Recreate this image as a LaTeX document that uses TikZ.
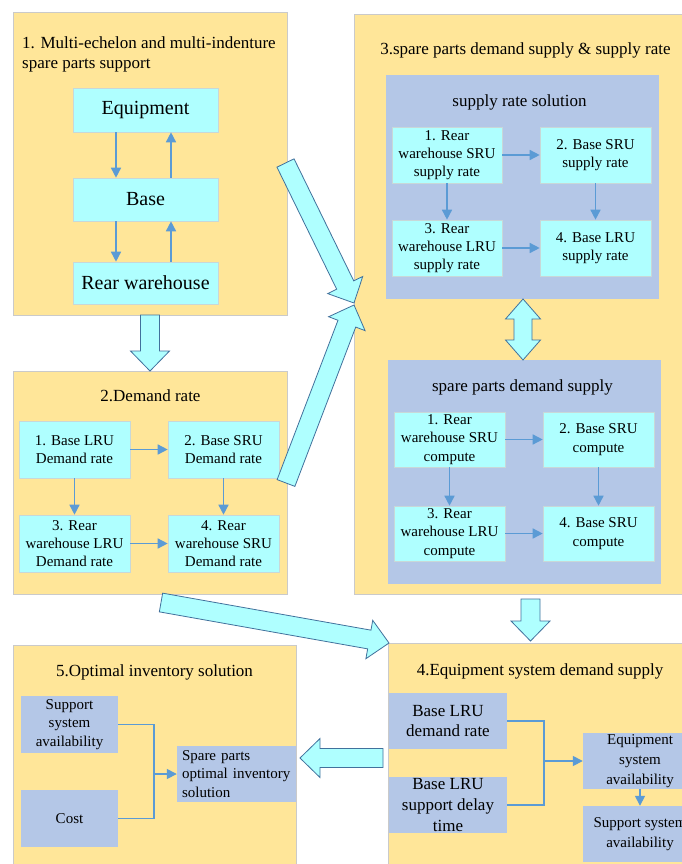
\documentclass[tikz,border=0pt]{standalone}
\usepackage{fontspec}
\setmainfont{Liberation Serif}
\usetikzlibrary{arrows.meta,calc,positioning}
\definecolor{panelfill}{HTML}{FFE699}
\definecolor{panelline}{HTML}{CACACA}
\definecolor{cellfill}{HTML}{AFFFFF}
\definecolor{cellline}{HTML}{C8D8D8}
\definecolor{softfill}{HTML}{B4C7E7}
\definecolor{flowblue}{HTML}{5B9BD5}
\definecolor{bigline}{HTML}{41719C}
\tikzset{panel/.style={fill=panelfill, draw=panelline, line width=.8pt}, subpanel/.style={fill=softfill}, cell/.style={draw=cellline, fill=cellfill, line width=.6pt, inner sep=0pt, align=center, font=\fontsize{15}{18.3}\selectfont, minimum width=111pt, minimum height=56pt}, bigcell/.style={cell, font=\fontsize{20}{24}\selectfont, minimum width=145pt}, soft/.style={fill=softfill, inner sep=0pt, align=center, font=\fontsize{15}{18.7}\selectfont}, softbig/.style={soft, font=\fontsize{17}{20.7}\selectfont, minimum width=118pt, minimum height=56pt}, flow/.style={-{Triangle[length=10pt,width=10pt]}, line width=1.5pt, draw=flowblue}, link/.style={line width=1.5pt, draw=flowblue}, ttl/.style={font=\fontsize{17}{20}\selectfont, inner sep=0pt, anchor=base}, blockarrow/.style={fill=cellfill, draw=bigline, line width=.8pt, line join=miter}}
% block arrow from tail #1 to tip #2
\newcommand{\bigarrow}[2]{%
  \path (#1) coordinate (ba) (#2) coordinate (bb);
  \path ($(bb)!20pt!(ba)$) coordinate (bn);
  \draw[blockarrow] ($(ba)!9.5pt!90:(bb)$) -- ($(bn)!9.5pt!90:(bb)$) -- ($(bn)!19.5pt!90:(bb)$) -- (bb)
    -- ($(bn)!19.5pt!-90:(bb)$) -- ($(bn)!9.5pt!-90:(bb)$) -- ($(ba)!9.5pt!-90:(bb)$) -- cycle;}
\begin{document}
\begin{tikzpicture}[x=1pt,y=-1pt]
\useasboundingbox (0,0) rectangle (681,864);
\fill[white] (0,0) rectangle (681,864);
% panels
\draw[panel] (13,12) rectangle (287,315);
\draw[panel] (13,371) rectangle (287,594);
\draw[panel] (354,14) rectangle (692,594);
\draw[panel] (388,643) rectangle (692,872);
\draw[panel] (13,645) rectangle (296,872);
\fill[subpanel] (386,75) rectangle (659,299);
\fill[subpanel] (388,360) rectangle (661,584);
% titles
\node[ttl, anchor=north west, align=left] (t1) at (22,36.5) {1. Multi-echelon and multi-indenture\\spare parts support};
\node[ttl] (t2) at (150.5,401.5) {2.Demand rate};
\node[ttl] (t3) at (525.5,55) {3.spare parts demand supply \& supply rate};
\node[ttl] (t3a) at (519.5,106.5) {supply rate solution};
\node[ttl] (t3b) at (522.5,391.5) {spare parts demand supply};
\node[ttl] (t4) at (540,675) {4.Equipment system demand supply};
\node[ttl] (t5) at (154.5,676.5) {5.Optimal inventory solution};
% 1
\node[bigcell, minimum height=44pt] (equip) at (145.5,110) {Equipment};
\node[bigcell, minimum height=43pt] (base) at (145.5,199.5) {Base};
\node[bigcell, minimum height=42pt] (rear) at (145.5,283) {Rear warehouse};
\draw[flow] ([xshift=-29.5pt]equip.south) -- ([xshift=-29.5pt]base.north);
\draw[flow] ([xshift=25.5pt]base.north) -- ([xshift=25.5pt]equip.south);
\draw[flow] ([xshift=-29.5pt]base.south) -- ([xshift=-29.5pt]rear.north);
\draw[flow] ([xshift=25.5pt]rear.north) -- ([xshift=25.5pt]base.south);
% 2
\node[cell, minimum height=57pt] (d1) at (74.5,449.5) {1. Base LRU\\Demand rate};
\node[cell, minimum height=57pt] (d2) at (223.5,449.5) {2. Base SRU\\Demand rate};
\node[cell, minimum height=57pt] (d3) at (74.5,543.5) {3. Rear\\warehouse LRU\\Demand rate};
\node[cell, minimum height=57pt] (d4) at (223.5,543.5) {4. Rear\\warehouse SRU\\Demand rate};
\draw[flow] (d1) -- (d2); \draw[flow] (d3) -- (d4);
\draw[flow] (d1) -- (d3); \draw[flow] (d2) -- (d4);
% 3
\node[cell, minimum width=110pt] (s1) at (447,155) {1. Rear\\warehouse SRU\\supply rate};
\node[cell] (s2) at (595.5,155) {2. Base SRU\\supply rate};
\node[cell, minimum width=110pt] (s3) at (447,248) {3. Rear\\warehouse LRU\\supply rate};
\node[cell] (s4) at (595.5,248) {4. Base LRU\\supply rate};
\draw[flow] (s1) -- (s2); \draw[flow] (s3) -- (s4);
\draw[flow] (s1) -- (s3); \draw[flow] (s2) -- (s4);
\node[cell, minimum height=55pt] (c1) at (449.5,439.5) {1. Rear\\warehouse SRU\\compute};
\node[cell, minimum height=55pt] (c2) at (598.5,439.5) {2. Base SRU\\compute};
\node[cell, minimum height=55pt] (c3) at (449.5,533.5) {3. Rear\\warehouse LRU\\compute};
\node[cell, minimum height=55pt] (c4) at (598.5,533.5) {4. Base SRU\\compute};
\draw[flow] (c1) -- (c2); \draw[flow] (c3) -- (c4);
\draw[flow] (c1) -- (c3); \draw[flow] (c2) -- (c4);
% 4
\node[softbig] (p4a) at (448,721) {Base LRU\\demand rate};
\node[softbig] (p4b) at (448,805) {Base LRU\\support delay\\time};
\node[soft, font=\fontsize{15}{20}\selectfont, minimum width=114pt, minimum height=56pt] (p4c) at (640,761) {Equipment\\system\\availability};
\node[soft, font=\fontsize{15}{20}\selectfont, minimum width=114pt, minimum height=56pt] (p4d) at (640,834) {Support system\\availability};
\coordinate (j4) at (544,761);
\draw[link] (p4a.east) -| (j4) |- (p4b.east);
\draw[flow] (j4) -- (p4c.west);
\draw[flow] (p4c.south) -- (p4d.north);
% 5
\node[soft, minimum width=97pt, minimum height=57pt] (q1) at (69.5,724.5) {Support\\system\\availability};
\node[soft, minimum width=97pt, minimum height=57pt] (q2) at (69.5,818.5) {Cost};
\node[soft, align=left, text width=109pt, inner xsep=5pt, minimum height=56pt, font=\fontsize{15}{18.3}\selectfont] (q3) at (236.5,774) {Spare parts\\optimal inventory\\solution};
\coordinate (j5) at (154,774);
\draw[link] (q1.east) -| (j5) |- (q2.east);
\draw[flow] (j5) -- (q3.west);
% big arrows
\coordinate (a1) at (285.5,163); \coordinate (a1h) at (354,303);
\coordinate (a2) at (286,483); \coordinate (a2h) at (354,305);
\coordinate (a3) at (161,602.5); \coordinate (a3h) at (389,643);
\coordinate (a4) at (383,758); \coordinate (a4h) at (300,758);
\coordinate (a5) at (150,315); \coordinate (a5h) at (150,371);
\coordinate (a6) at (530.5,599); \coordinate (a6h) at (530.5,641);
\bigarrow{a1}{a1h}
\bigarrow{a2}{a2h}
\bigarrow{a3}{a3h}
\bigarrow{a4}{a4h}
\bigarrow{a5}{a5h}
\bigarrow{a6}{a6h}
\draw[blockarrow] (523,299) -- (540.5,319) -- (532,319) -- (532,340) -- (540.5,340) -- (523,360) -- (505.5,340) -- (514,340) -- (514,319) -- (505.5,319) -- cycle;
\end{tikzpicture}
\end{document}
